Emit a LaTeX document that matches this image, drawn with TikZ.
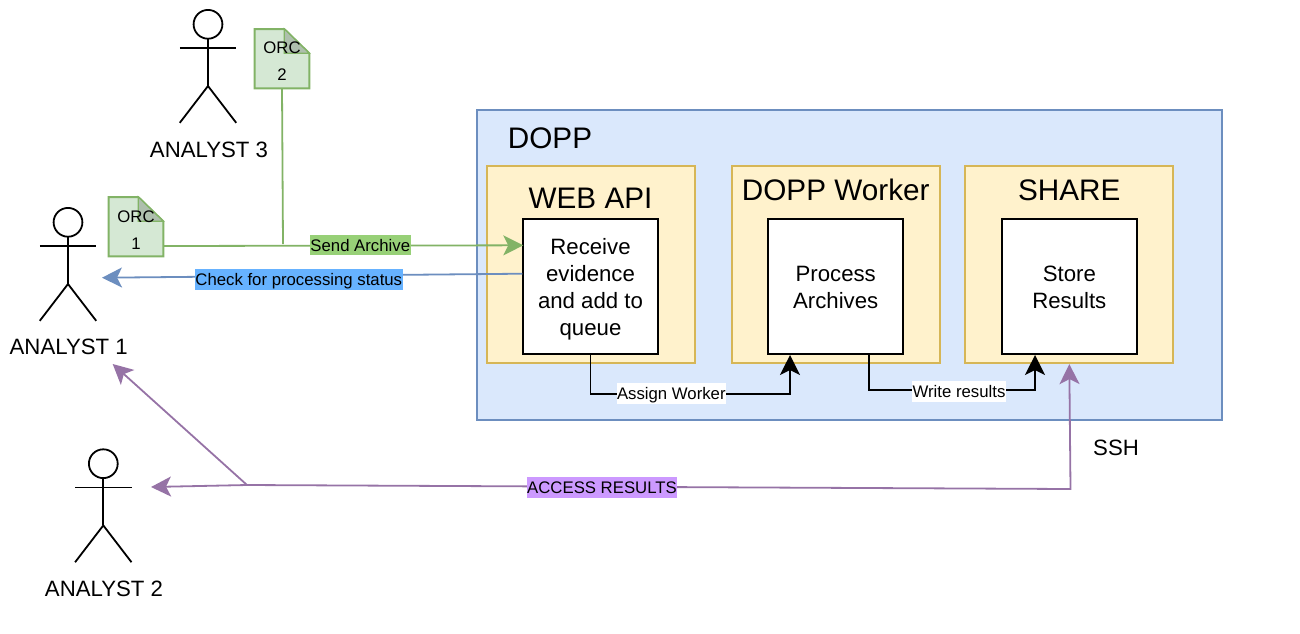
\documentclass[tikz,border=0pt]{standalone}
\usepackage{fontspec}
\setmainfont{Liberation Sans}
\usetikzlibrary{arrows.meta}

\definecolor{dopfill}{HTML}{DAE8FC}
\definecolor{dopline}{HTML}{6C8EBF}
\definecolor{apifill}{HTML}{FFF2CC}
\definecolor{apiline}{HTML}{D6B656}
\definecolor{orcfill}{HTML}{D5E8D4}
\definecolor{orcfold}{HTML}{AEBFAD}
\definecolor{orcline}{HTML}{82B366}
\definecolor{accline}{HTML}{9673A6}
\definecolor{sendfill}{HTML}{97D077}
\definecolor{checkfill}{HTML}{66B2FF}
\definecolor{accfill}{HTML}{CC99FF}

\tikzset{
	small/.style={font=\fontsize{16.75}{20}\selectfont,inner xsep=0.5pt,inner ysep=2.4pt,text height=14pt,text depth=2pt},
	mid/.style={font=\fontsize{22.2}{27}\selectfont,align=center},
	big/.style={font=\fontsize{29.7}{34}\selectfont},
	tiphead/.style={-{Stealth[length=20pt,width=20pt,inset=5pt]}},
	outerbox/.style={draw=dopline,fill=dopfill,line width=2pt,minimum width=745pt,minimum height=310pt},
	servicebox/.style={draw=apiline,fill=apifill,line width=2pt,minimum width=208pt,minimum height=197pt},
	stepbox/.style={draw=black,fill=white,line width=2pt,minimum width=135.5pt,minimum height=135.5pt,mid},
	orcbox/.style={align=center,font=\fontsize{16.75}{27}\selectfont,minimum width=54.6pt,minimum height=54.6pt},
	actor/.pic={
		\draw [black,line width=1.8pt] (0,0) circle (14.4pt);
		\draw [black,line width=1.8pt] (0,14.4) -- (0,61.7);
		\draw [black,line width=1.8pt] (-28.2,23.7) -- (28.2,23.7);
		\draw [black,line width=1.8pt] (-28.2,98.5) -- (0,61.7) -- (28.2,98.5);
	},
	orcdoc/.pic={
		\draw [orcline,fill=orcfill,line width=2pt] (0,0) -- (29.6,0) -- (54.6,24.3) -- (54.6,59.3) -- (0,59.3) -- cycle;
		\draw [orcline,fill=orcfold,line width=1.2pt] (29.6,0) -- (29.6,24.3) -- (54.6,24.3) -- cycle;
	}
}

\begin{document}
\begin{tikzpicture}[x=1pt,y=-1pt]
	\tikzstyle{every node}+=[inner sep=0pt]
	\useasboundingbox (0,0) rectangle (1300,633);

	% boxes
	\node [outerbox] (dopp) at (849.5,264.6) {};
	\node [big] (dopptitle) at (550,138.5) {DOPP};
	\node [servicebox] (webapi) at (590.8,264.6) {};
	\node [servicebox] (worker) at (835.5,264.6) {};
	\node [servicebox] (sharebox) at (1069.3,264.6) {};
	\node [big] (webtitle) at (590.5,198) {WEB API};
	\node [big] (workertitle) at (835.7,190) {DOPP Worker};
	\node [big] (sharetitle) at (1069.3,190) {SHARE};
	\node [stepbox] (receive) at (590.5,286.7) {\rule{0pt}{21pt}Receive\\evidence\\and add to\\queue~};
	\node [stepbox] (process) at (835.7,286.7) {\rule{0pt}{16pt}Process\\Archives};
	\node [stepbox] (store) at (1069.3,286.7) {\rule{0pt}{16pt}Store\\Results};

	% analysts and documents
	\pic at (68,222.3) {actor};
	\pic at (208,24.3) {actor};
	\pic at (103.3,463.7) {actor};
	\node [mid] (analystone) at (68.7,346.7) {ANALYST 1};
	\node [mid] (analystthree) at (209,149.7) {ANALYST 3};
	\node [mid] (analysttwo) at (104,588.7) {ANALYST 2};
	\pic at (108.7,197) {orcdoc};
	\pic at (254.7,29) {orcdoc};
	\node [orcbox] (orcone) at (136,229.7) {ORC\\1};
	\node [orcbox] (orctwo) at (282,61) {ORC\\2};
	\node [mid] (ssh) at (1116,447.5) {SSH};

	% free ends
	\coordinate (sendstart) at (163.3,246);
	\coordinate (sendend) at (523.3,245.3);
	\coordinate (sendjoin) at (283,244);
	\coordinate (checkstart) at (522.3,273.7);
	\coordinate (checkend) at (102,277.7);
	\coordinate (assignend) at (790,355);
	\coordinate (writestart) at (869.3,354.7);
	\coordinate (writeend) at (1035,355);
	\coordinate (acccorner) at (1070.5,489);
	\coordinate (accjoin) at (247,485);
	\coordinate (accone) at (112.7,364);
	\coordinate (acctwo) at (151,487);

	% connectors
	\draw [orcline,line width=1.8pt] (orctwo.south) -- (sendjoin);
	\draw [orcline,line width=1.8pt,tiphead] (sendstart) -- (sendend);
	\draw [dopline,line width=1.8pt,tiphead] (checkstart) -- (checkend);
	\draw [black,line width=1.9pt,tiphead] (receive.south) |- (assignend |- 0,393.7) -- (assignend);
	\draw [black,line width=1.9pt,tiphead] (writestart) |- (writeend |- 0,389.7) -- (writeend);
	\draw [accline,line width=1.8pt,tiphead] (accjoin) -- (acccorner) -- (sharebox.south);
	\draw [accline,line width=1.8pt,tiphead] (accjoin) -- (accone);
	\draw [accline,line width=1.8pt,tiphead] (accjoin) -- (acctwo);

	% connector labels
	\node [small,fill=sendfill] (sendlabel) at (360.3,245) {Send Archive};
	\node [small,fill=checkfill] (checklabel) at (298.8,279.3) {Check for processing status};
	\node [small,fill=white] (assignlabel) at (671.3,393.3) {Assign Worker};
	\node [small,fill=white] (writelabel) at (959,391.3) {Write results};
	\node [small,fill=accfill] (acclabel) at (602,487.7) {ACCESS RESULTS};
\end{tikzpicture}
\end{document}
